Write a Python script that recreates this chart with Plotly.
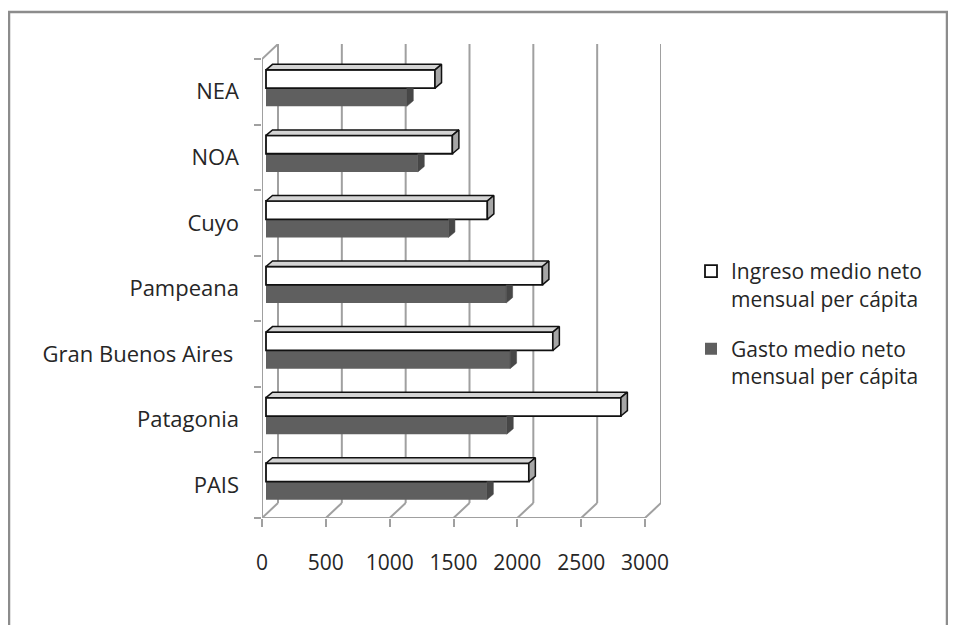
import plotly.graph_objects as go

# ---------------- data ----------------
categories = ["PAIS", "Patagonia", "Gran Buenos Aires\u00a0", "Pampeana", "Cuyo", "NOA", "NEA"]
ingreso = [2059, 2780, 2247, 2165, 1734, 1460, 1324]
gasto = [1730, 1886, 1912, 1881, 1429, 1189, 1103]
x_ticks = [0, 500, 1000, 1500, 2000, 2500, 3000]
name_ingreso = "Ingreso medio neto<br>mensual per cápita"
name_gasto = "Gasto medio neto<br>mensual per cápita"

# ---------------- geometry (pseudo 3D) ----------------
PAGE_OFF = 8                  # browser body margin
W, H = 956 - PAGE_OFF, 625 - PAGE_OFF
L, T = 262 - PAGE_OFF, 44 - PAGE_OFF
PX_X = 383 / 3000.0          # px per value unit
PX_Y = 65.57                 # px per category
BACK_DX = 16 / PX_X          # back wall offset in value units
BACK_DY = 15 / PX_Y          # back wall offset in category units
XMAX = x_ticks[-1] + BACK_DX
YMIN = -0.5
YMAX = len(categories) - 0.5 + BACK_DY
plot_w = XMAX * PX_X
plot_h = (YMAX - YMIN) * PX_Y
R = W - L - plot_w
B = H - T - plot_h

BASE = 4 / PX_X              # bars' front face start
DDX = 6.5 / PX_X             # bar depth (x)
DDY = 5.5 / PX_Y             # bar depth (y)
W_ING, OFF_ING = 0.28, 0.055
W_GAS, OFF_GAS = 0.277, -0.222

FONT = "Open Sans"
TXT = "#262626"
GRID = "#a0a0a0"

pos = list(range(len(categories)))

fig = go.Figure()

fig.add_trace(go.Bar(
    y=pos, x=gasto, base=BASE, orientation="h", width=W_GAS, offset=OFF_GAS,
    marker=dict(color="#5f5f5f", line=dict(width=0)),
    name=name_gasto, legendgroup="g", legendrank=2, hoverinfo="x"))
fig.add_trace(go.Bar(
    y=pos, x=ingreso, base=BASE, orientation="h", width=W_ING, offset=OFF_ING,
    marker=dict(color="white", line=dict(color="#111111", width=1.8)),
    name=name_ingreso, legendgroup="i", legendrank=1, hoverinfo="x"))


def poly_trace(polys, fill, line_color, line_width):
    xs, ys = [], []
    for p in polys:
        for a, b in p:
            xs.append(a)
            ys.append(b)
        xs.append(p[0][0]); ys.append(p[0][1])
        xs.append(None); ys.append(None)
    return go.Scatter(x=xs, y=ys, mode="lines", fill="toself", fillcolor=fill,
                      line=dict(color=line_color, width=line_width),
                      showlegend=False, hoverinfo="skip")


# gasto right faces (clipped below ingreso bar)
g_right = []
for i, v in zip(pos, gasto):
    y0 = i + OFF_GAS
    y1 = y0 + W_GAS
    e = BASE + v
    g_right.append([(e, y0), (e + DDX, y0 + DDY), (e + DDX, y1), (e, y1)])
fig.add_trace(poly_trace(g_right, "#474747", "#474747", 0.5))

# ingreso top & right faces
i_top, i_right = [], []
for i, v in zip(pos, ingreso):
    y0 = i + OFF_ING
    y1 = y0 + W_ING
    e = BASE + v
    i_top.append([(BASE, y1), (e, y1), (e + DDX, y1 + DDY), (BASE + DDX, y1 + DDY)])
    i_right.append([(e, y0), (e + DDX, y0 + DDY), (e + DDX, y1 + DDY), (e, y1)])
fig.add_trace(poly_trace(i_top, "#d4d4d4", "#111111", 1.5))
fig.add_trace(poly_trace(i_right, "#a6a6a6", "#111111", 1.5))

# ---------------- walls / gridlines ----------------
shapes = []
ln = dict(color=GRID, width=2)
for v in x_ticks:
    shapes.append(dict(type="line", xref="x", yref="y", layer="below",
                       x0=v + BACK_DX, x1=v + BACK_DX, y0=YMIN + BACK_DY, y1=YMAX, line=ln))
    shapes.append(dict(type="line", xref="x", yref="y", layer="below",
                       x0=v, x1=v + BACK_DX, y0=YMIN, y1=YMIN + BACK_DY, line=ln))
# front floor edge and front vertical axis
shapes.append(dict(type="line", xref="x", yref="y", layer="below",
                   x0=0, x1=x_ticks[-1], y0=YMIN, y1=YMIN, line=ln))
shapes.append(dict(type="line", xref="x", yref="y", layer="below",
                   x0=0, x1=0, y0=YMIN, y1=len(categories) - 0.5, line=ln))
shapes.append(dict(type="line", xref="x", yref="y", layer="below",
                   x0=0, x1=BACK_DX, y0=len(categories) - 0.5, y1=YMAX, line=ln))
# outer chart border (page coords 9..947 x 12..bottom)
bx0, bx1, by1 = 9 - PAGE_OFF, 947 - PAGE_OFF, 12 - PAGE_OFF
shapes.append(dict(type="rect", xref="paper", yref="paper", layer="below",
                   x0=(bx0 - L) / plot_w, x1=(bx1 - L) / plot_w,
                   y0=-(H + 20 - (T + plot_h)) / plot_h, y1=(T + plot_h - by1) / plot_h,
                   line=dict(color="#8c8c8c", width=2.5)))

fig.update_layout(
    width=W, height=H,
    margin=dict(l=L, r=R, t=T, b=B, pad=0),
    paper_bgcolor="white", plot_bgcolor="white",
    barmode="overlay",
    shapes=shapes,
    font=dict(family=FONT, color=TXT, size=21),
    showlegend=True,
    legend=dict(
        xref="container", yref="container",
        x=(691 - PAGE_OFF) / W, y=1 - (251 - PAGE_OFF) / H, xanchor="left", yanchor="top",
        font=dict(family=FONT, size=21, color=TXT),
        valign="top", tracegroupgap=20, bgcolor="rgba(0,0,0,0)",
        traceorder="grouped",
    ),
    xaxis=dict(
        range=[0, XMAX], tickmode="array", tickvals=x_ticks,
        ticktext=[str(v) for v in x_ticks],
        ticks="outside", ticklen=8, tickwidth=2, tickcolor=GRID,
        showgrid=False, zeroline=False, showline=False, fixedrange=True,
        tickfont=dict(family=FONT, size=21, color=TXT), ticklabelstandoff=18,
    ),
    yaxis=dict(
        range=[YMIN, YMAX], tickmode="array", tickvals=pos, ticktext=categories,
        ticks="", showgrid=False, zeroline=False, showline=False, fixedrange=True,
        tickfont=dict(family=FONT, size=22, color=TXT), ticklabelstandoff=22,
        minor=dict(tickmode="array", tickvals=[p - 0.5 for p in pos] + [len(categories) - 0.5],
                   ticks="outside", ticklen=7, tickwidth=2, tickcolor=GRID, showgrid=False),
    ),
)

fig.write_html("out.html")
